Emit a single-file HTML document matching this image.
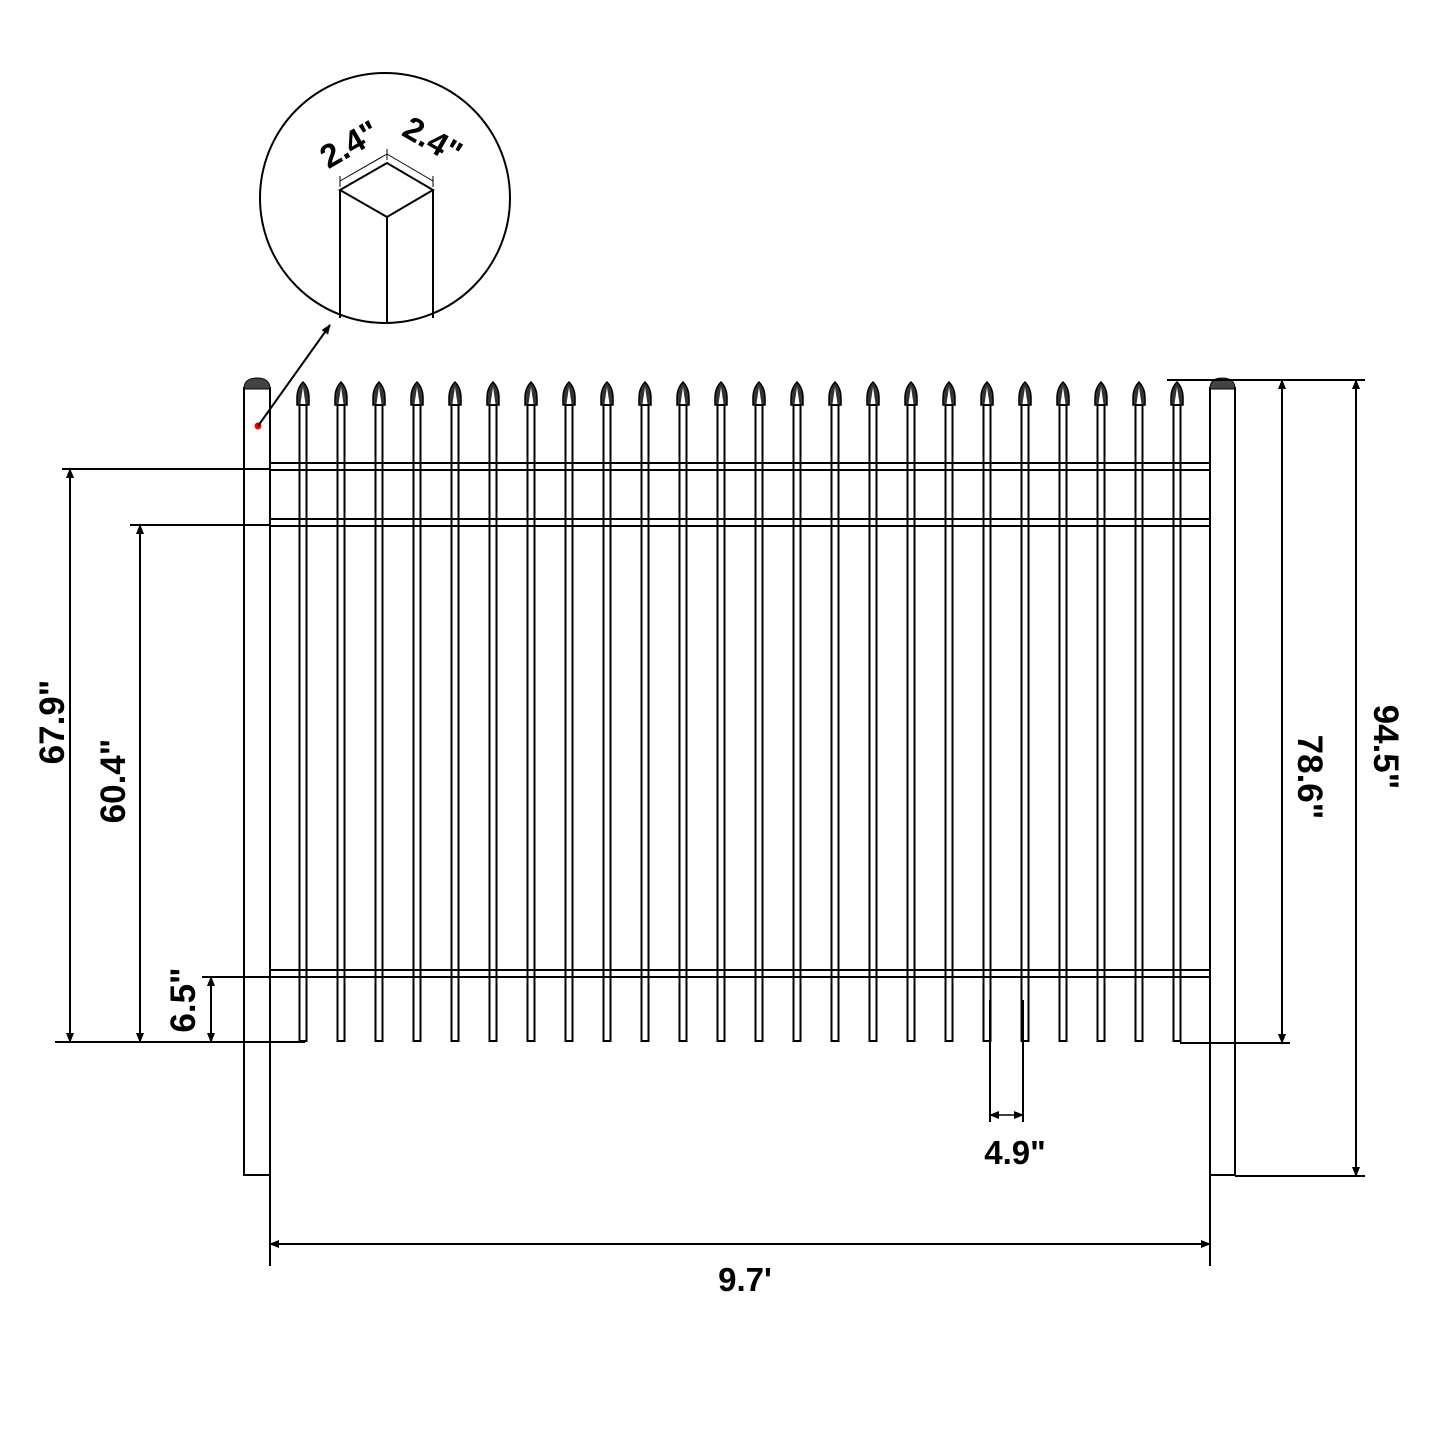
<!DOCTYPE html>
<html><head><style>body{margin:0;background:#fff}svg{display:block}text{font-family:"Liberation Sans",sans-serif;font-weight:bold;fill:#000}</style></head>
<body>
<svg width="1440" height="1440" viewBox="0 0 1440 1440" xmlns="http://www.w3.org/2000/svg">
<defs>
<g id="p">
<rect x="-3.5" y="405" width="7" height="636" fill="#fff" stroke="#000" stroke-width="2"/>
<path d="M0,382 C4,386 6,392 6,398 L6,405 L-6,405 L-6,398 C-6,392 -4,386 0,382 Z" fill="#333" stroke="#000" stroke-width="1.5"/>
<path d="M0,387 L2.5,404 L-2.5,404 Z" fill="#fff"/>
</g>
<marker id="a" markerWidth="10" markerHeight="10" refX="9" refY="5" orient="auto" markerUnits="userSpaceOnUse"><path d="M0,1 L10,5 L0,9 Z" fill="#000"/></marker>
<marker id="b" markerWidth="10" markerHeight="10" refX="1" refY="5" orient="auto" markerUnits="userSpaceOnUse"><path d="M10,1 L0,5 L10,9 Z" fill="#000"/></marker>
</defs>
<g stroke="#000" stroke-width="2" fill="none">
<rect x="270" y="463" width="940" height="7" fill="#fff"/>
<rect x="270" y="519" width="940" height="7" fill="#fff"/>
<rect x="270" y="970" width="940" height="7" fill="#fff"/>
</g>
<g>
<use href="#p" x="303"/><use href="#p" x="341"/><use href="#p" x="379"/><use href="#p" x="417"/>
<use href="#p" x="455"/><use href="#p" x="493"/><use href="#p" x="531"/><use href="#p" x="569"/>
<use href="#p" x="607"/><use href="#p" x="645"/><use href="#p" x="683"/><use href="#p" x="721"/>
<use href="#p" x="759"/><use href="#p" x="797"/><use href="#p" x="835"/><use href="#p" x="873"/>
<use href="#p" x="911"/><use href="#p" x="949"/><use href="#p" x="987"/><use href="#p" x="1025"/>
<use href="#p" x="1063"/><use href="#p" x="1101"/><use href="#p" x="1139"/><use href="#p" x="1177"/>
</g>
<g stroke="#000" stroke-width="2">
<line x1="270" y1="463" x2="1210" y2="463"/><line x1="270" y1="470" x2="1210" y2="470"/>
<line x1="270" y1="519" x2="1210" y2="519"/><line x1="270" y1="526" x2="1210" y2="526"/>
<line x1="270" y1="970" x2="1210" y2="970"/><line x1="270" y1="977" x2="1210" y2="977"/>
</g>
<g stroke="#000" stroke-width="2" fill="#fff">
<rect x="244" y="388" width="26" height="787"/>
<rect x="1210" y="388" width="25" height="787"/>
</g>
<path d="M244,389 C244,380 250,378 257,378 C264,378 270,380 270,389 Z" fill="#444" stroke="#000"/>
<path d="M1210,389 C1210,380 1216,378 1222,378 C1229,378 1235,380 1235,389 Z" fill="#444" stroke="#000"/>
<circle cx="258" cy="426" r="3.5" fill="#e00"/>
<line x1="258" y1="426" x2="330" y2="325" stroke="#000" stroke-width="2" marker-end="url(#a)"/>
<circle cx="385" cy="198" r="125" fill="#fff" stroke="#000" stroke-width="2"/>
<g stroke="#000" stroke-width="2" fill="none">
<path d="M340,190 L387,163 L433,190 L387,217 Z"/>
<line x1="340" y1="190" x2="340" y2="318"/>
<line x1="387" y1="217" x2="387" y2="323"/>
<line x1="433" y1="190" x2="433" y2="318"/>
</g>
<g stroke="#000" stroke-width="1">
<line x1="340" y1="187" x2="340" y2="176"/><line x1="387" y1="160" x2="387" y2="149"/><line x1="433" y1="187" x2="433" y2="176"/>
<line x1="340" y1="181" x2="387" y2="154"/><line x1="387" y1="154" x2="433" y2="181"/>
</g>
<text x="355" y="154" font-size="33" text-anchor="middle" transform="rotate(-30 355 154)">2.4"</text>
<text x="427" y="150" font-size="33" text-anchor="middle" transform="rotate(30 427 150)">2.4"</text>
<g stroke="#000" stroke-width="2">
<line x1="62" y1="469" x2="270" y2="469"/>
<line x1="130" y1="525" x2="270" y2="525"/>
<line x1="202" y1="977" x2="310" y2="977"/>
<line x1="55" y1="1042" x2="305" y2="1042"/>
<line x1="70" y1="469" x2="70" y2="1042" marker-start="url(#b)" marker-end="url(#a)"/>
<line x1="140" y1="525" x2="140" y2="1042" marker-start="url(#b)" marker-end="url(#a)"/>
<line x1="211" y1="977" x2="211" y2="1042" marker-start="url(#b)" marker-end="url(#a)"/>
</g>
<text x="52" y="722" font-size="35" text-anchor="middle" transform="rotate(-90 52 722)" dy="12">67.9"</text>
<text x="113" y="781" font-size="35" text-anchor="middle" transform="rotate(-90 113 781)" dy="12">60.4"</text>
<text x="183" y="1000" font-size="35" text-anchor="middle" transform="rotate(-90 183 1000)" dy="12">6.5"</text>
<g stroke="#000" stroke-width="2">
<line x1="1167" y1="380" x2="1365" y2="380"/>
<line x1="1180" y1="1043" x2="1290" y2="1043"/>
<line x1="1235" y1="1176" x2="1365" y2="1176"/>
<line x1="1282" y1="380" x2="1282" y2="1043" marker-start="url(#b)" marker-end="url(#a)"/>
<line x1="1356" y1="380" x2="1356" y2="1176" marker-start="url(#b)" marker-end="url(#a)"/>
<line x1="990" y1="1000" x2="990" y2="1122"/>
<line x1="1023" y1="1000" x2="1023" y2="1122"/>
<line x1="990" y1="1115" x2="1023" y2="1115" stroke-width="1.5" marker-start="url(#b)" marker-end="url(#a)"/>
<line x1="270" y1="1175" x2="270" y2="1266"/>
<line x1="1210" y1="1175" x2="1210" y2="1266"/>
<line x1="270" y1="1244" x2="1210" y2="1244" marker-start="url(#b)" marker-end="url(#a)"/>
</g>
<text x="1310" y="777" font-size="35" text-anchor="middle" transform="rotate(90 1310 777)" dy="12">78.6"</text>
<text x="1386" y="747" font-size="35" text-anchor="middle" transform="rotate(90 1386 747)" dy="12">94.5"</text>
<text x="1015" y="1164" font-size="33" text-anchor="middle">4.9"</text>
<text x="745" y="1291" font-size="33" text-anchor="middle">9.7'</text>
</svg>
</body></html>
